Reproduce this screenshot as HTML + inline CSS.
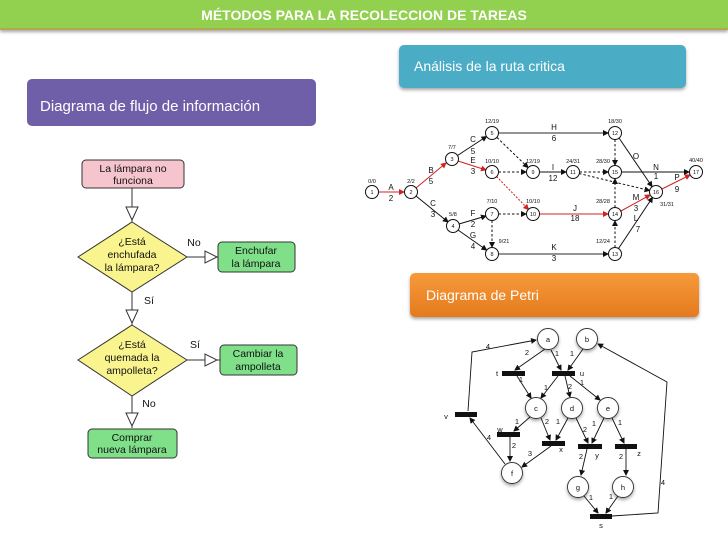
<!DOCTYPE html>
<html><head><meta charset="utf-8"><style>
html,body{margin:0;padding:0;background:#fff;}
svg{display:block;}
</style></head><body>
<svg width="728" height="546" viewBox="0 0 728 546" xmlns="http://www.w3.org/2000/svg" font-family="Liberation Sans, DejaVu Sans, sans-serif">
<defs>
<marker id="ab" markerWidth="6" markerHeight="6" refX="5" refY="3" orient="auto" markerUnits="userSpaceOnUse"><path d="M0,0 L6,3 L0,6 z" fill="#111"/></marker>
<marker id="ar" markerWidth="6" markerHeight="6" refX="5" refY="3" orient="auto" markerUnits="userSpaceOnUse"><path d="M0,0 L6,3 L0,6 z" fill="#d32020"/></marker>
<filter id="sh" x="-5%" y="-20%" width="110%" height="150%"><feDropShadow dx="0" dy="2" stdDeviation="1.5" flood-color="#000" flood-opacity="0.35"/></filter>
<linearGradient id="og" x1="0" y1="0" x2="0" y2="1"><stop offset="0" stop-color="#f79a3a"/><stop offset="1" stop-color="#e47a1e"/></linearGradient>
</defs>
<!-- header -->
<rect x="0" y="0" width="728" height="30" fill="#92d050" filter="url(#sh)"/>
<rect x="0" y="28" width="728" height="2" fill="#b5a848"/>
<text x="364" y="20" text-anchor="middle" font-size="14" font-weight="bold" fill="#fff">MÉTODOS PARA LA RECOLECCION DE TAREAS</text>
<!-- boxes -->
<rect x="399" y="45" width="287" height="43" rx="5" fill="#4bacc6" filter="url(#sh)"/>
<text x="414" y="71" font-size="14" fill="#fff">Análisis de la ruta critica</text>
<rect x="27" y="79" width="289" height="47" rx="5" fill="#6f5fa8"/>
<text x="40" y="111" font-size="15" fill="#fff">Diagrama de flujo de información</text>
<rect x="410" y="273" width="289" height="44" rx="5" fill="url(#og)" filter="url(#sh)"/>
<text x="426" y="300" font-size="14" fill="#fff">Diagrama de Petri</text>

<!-- flowchart -->
<g font-size="10.5" fill="#111" stroke="#111">
<rect x="82" y="160" width="102" height="28" rx="4" fill="#f6c4cd" stroke="#333"/>
<line x1="132" y1="188" x2="132" y2="222" stroke="#333"/>
<polygon points="126,207 138,207 132,220" fill="#fff" stroke="#333"/>
<polygon points="132,222 187,257 132,292 78,257" fill="#f9f48e" stroke="#333"/>
<line x1="187" y1="257" x2="218" y2="257" stroke="#333"/>
<polygon points="205,251 205,263 217,257" fill="#fff" stroke="#333"/>
<rect x="218" y="242" width="77" height="30" rx="4" fill="#80e08a" stroke="#333"/>
<line x1="132" y1="292" x2="132" y2="325" stroke="#333"/>
<polygon points="126,310 138,310 132,323" fill="#fff" stroke="#333"/>
<polygon points="132,325 187,360 132,396 78,360" fill="#f9f48e" stroke="#333"/>
<line x1="187" y1="360" x2="220" y2="360" stroke="#333"/>
<polygon points="205,354 205,366 217,360" fill="#fff" stroke="#333"/>
<rect x="220" y="345" width="77" height="30" rx="4" fill="#80e08a" stroke="#333"/>
<line x1="132" y1="396" x2="132" y2="428" stroke="#333"/>
<polygon points="126,413 138,413 132,426" fill="#fff" stroke="#333"/>
<rect x="88" y="429" width="89" height="29" rx="4" fill="#80e08a" stroke="#333"/>
</g>
<g font-size="10.5" fill="#111" text-anchor="middle">
<text x="133" y="172">La lámpara no</text><text x="133" y="184">funciona</text>
<text x="132" y="245">¿Está</text><text x="132" y="258">enchufada</text><text x="132" y="271">la lámpara?</text>
<text x="194" y="246">No</text>
<text x="256" y="254">Enchufar</text><text x="256" y="267">la lámpara</text>
<text x="149" y="304">Sí</text>
<text x="132" y="348">¿Está</text><text x="132" y="361">quemada la</text><text x="132" y="374">ampolleta?</text>
<text x="195" y="348">Sí</text>
<text x="258" y="357">Cambiar la</text><text x="258" y="370">ampolleta</text>
<text x="149" y="407">No</text>
<text x="132" y="441">Comprar</text><text x="132" y="453">nueva lámpara</text>
</g>

<!-- CPM -->
<g stroke-width="1" fill="none">
<line x1="378.5" y1="192" x2="404" y2="192" stroke="#d32020" marker-end="url(#ar)"/>
<line x1="416" y1="188" x2="446" y2="163" stroke="#d32020" marker-end="url(#ar)"/>
<line x1="416" y1="196" x2="448" y2="222" stroke="#111" marker-end="url(#ab)"/>
<line x1="457.5" y1="155.5" x2="486.5" y2="136.5" stroke="#111" marker-end="url(#ab)"/>
<line x1="458" y1="161" x2="486" y2="170" stroke="#d32020" marker-end="url(#ar)"/>
<line x1="459" y1="224" x2="486" y2="216" stroke="#111" marker-end="url(#ab)"/>
<line x1="458" y1="230" x2="486.5" y2="250" stroke="#111" marker-end="url(#ab)"/>
<line x1="498.5" y1="133" x2="608" y2="133" stroke="#555" stroke-width="1.3" marker-end="url(#ab)"/>
<line x1="497" y1="137.5" x2="528" y2="167.5" stroke="#111" stroke-dasharray="2.5,2" marker-end="url(#ab)"/>
<line x1="498.5" y1="172" x2="526" y2="172" stroke="#111" stroke-dasharray="2.5,2" marker-end="url(#ab)"/>
<line x1="496.5" y1="176.5" x2="528.5" y2="209.5" stroke="#d32020" stroke-dasharray="2,1.5" marker-end="url(#ar)"/>
<line x1="498.5" y1="214" x2="526" y2="214" stroke="#111" stroke-dasharray="2.5,2" marker-end="url(#ab)"/>
<line x1="492" y1="220.5" x2="492" y2="247" stroke="#111" stroke-dasharray="2.5,2" marker-end="url(#ab)"/>
<line x1="539.5" y1="172" x2="566" y2="172" stroke="#111" marker-end="url(#ab)"/>
<line x1="539.5" y1="214" x2="608" y2="214" stroke="#d32020" marker-end="url(#ar)"/>
<line x1="579.5" y1="172" x2="608" y2="172" stroke="#111" stroke-dasharray="2.5,2" marker-end="url(#ab)"/>
<line x1="579" y1="173.5" x2="649.5" y2="190.5" stroke="#111" stroke-dasharray="2.5,2" marker-end="url(#ab)"/>
<line x1="498.5" y1="254" x2="608" y2="254" stroke="#555" stroke-width="1.3" marker-end="url(#ab)"/>
<line x1="615" y1="139.5" x2="615" y2="165" stroke="#111" stroke-dasharray="2.5,2" marker-end="url(#ab)"/>
<line x1="619" y1="138" x2="652" y2="186.5" stroke="#111" marker-end="url(#ab)"/>
<line x1="621.5" y1="172" x2="689" y2="172" stroke="#111" marker-end="url(#ab)"/>
<line x1="615" y1="207.5" x2="615" y2="179" stroke="#111" stroke-dasharray="2.5,2" marker-end="url(#ab)"/>
<line x1="615" y1="247.5" x2="615" y2="221" stroke="#111" stroke-dasharray="2.5,2" marker-end="url(#ab)"/>
<line x1="621" y1="211" x2="650" y2="195" stroke="#d32020" marker-end="url(#ar)"/>
<line x1="618.5" y1="248.5" x2="652.5" y2="197.5" stroke="#111" marker-end="url(#ab)"/>
<line x1="662" y1="189" x2="690" y2="175" stroke="#d32020" marker-end="url(#ar)"/>
</g>
<g fill="#fff" stroke="#111" stroke-width="1">
<circle cx="372" cy="192" r="6.5"/><circle cx="411" cy="192" r="6.5"/><circle cx="452" cy="159" r="6.5"/><circle cx="453" cy="226" r="6.5"/>
<circle cx="492" cy="133" r="6.5"/><circle cx="492" cy="172" r="6.5"/><circle cx="492" cy="214" r="6.5"/><circle cx="492" cy="254" r="6.5"/>
<circle cx="533" cy="172" r="6.5"/><circle cx="533" cy="214" r="6.5"/><circle cx="573" cy="172" r="6.5"/>
<circle cx="615" cy="133" r="6.5"/><circle cx="615" cy="172" r="6.5"/><circle cx="615" cy="214" r="6.5"/><circle cx="615" cy="254" r="6.5"/>
<circle cx="656" cy="192" r="6.5"/><circle cx="696" cy="172" r="6.5"/>
</g>
<g font-size="5.5" fill="#111" text-anchor="middle">
<text x="372" y="194">1</text><text x="411" y="194">2</text><text x="452" y="161">3</text><text x="453" y="228">4</text>
<text x="492" y="135">5</text><text x="492" y="174">6</text><text x="492" y="216">7</text><text x="492" y="256">8</text>
<text x="533" y="174">9</text><text x="533" y="216">10</text><text x="573" y="174">11</text>
<text x="615" y="135">12</text><text x="615" y="174">15</text><text x="615" y="216">14</text><text x="615" y="256">13</text>
<text x="656" y="194">16</text><text x="696" y="174">17</text>
<text x="372" y="183">0/0</text><text x="411" y="183">2/2</text><text x="452" y="149">7/7</text><text x="492" y="123">12/19</text>
<text x="492" y="163">10/10</text><text x="492" y="203">7/10</text><text x="453" y="216">5/8</text><text x="504" y="243">9/21</text>
<text x="533" y="163">12/19</text><text x="533" y="203">10/10</text><text x="573" y="163">24/31</text><text x="615" y="123">18/30</text>
<text x="603" y="163">28/30</text><text x="603" y="203">28/28</text><text x="603" y="243">12/24</text><text x="696" y="162">40/40</text><text x="667" y="206">31/31</text>
</g>
<g font-size="8" fill="#111" text-anchor="middle">
<text x="391" y="190">A</text><text x="391" y="201">2</text>
<text x="431" y="173">B</text><text x="431" y="184">5</text>
<text x="433" y="206">C</text><text x="433" y="217">3</text>
<text x="473" y="142">C</text><text x="473" y="154">5</text>
<text x="473" y="163">E</text><text x="473" y="174">3</text>
<text x="473" y="216">F</text><text x="473" y="227">2</text>
<text x="473" y="238">G</text><text x="473" y="249">4</text>
<text x="554" y="130">H</text><text x="554" y="141">6</text>
<text x="553" y="170">I</text><text x="553" y="181">12</text>
<text x="575" y="211">J</text><text x="575" y="221">18</text>
<text x="554" y="250">K</text><text x="554" y="261">3</text>
<text x="636" y="159">O</text>
<text x="656" y="170">N</text><text x="656" y="179">1</text>
<text x="677" y="180">P</text><text x="677" y="192">9</text>
<text x="636" y="200">M</text><text x="636" y="211">3</text>
<text x="636" y="221">L</text><text x="638" y="232">7</text>
</g>

<!-- Petri -->
<g stroke="#111" stroke-width="0.9" fill="none">
<line x1="545" y1="349" x2="515" y2="370" marker-end="url(#ab)"/>
<line x1="551" y1="350" x2="561" y2="370" marker-end="url(#ab)"/>
<line x1="583" y1="349" x2="568" y2="370" marker-end="url(#ab)"/>
<line x1="517" y1="376" x2="531" y2="398" marker-end="url(#ab)"/>
<line x1="558" y1="376" x2="541" y2="398" marker-end="url(#ab)"/>
<line x1="565" y1="376" x2="570" y2="397" marker-end="url(#ab)"/>
<line x1="570" y1="376" x2="600" y2="400" marker-end="url(#ab)"/>
<line x1="530" y1="417" x2="514" y2="431" marker-end="url(#ab)"/>
<line x1="541" y1="418" x2="550" y2="440" marker-end="url(#ab)"/>
<line x1="568" y1="418" x2="556" y2="440" marker-end="url(#ab)"/>
<line x1="576" y1="418" x2="588" y2="443" marker-end="url(#ab)"/>
<line x1="604" y1="418" x2="592" y2="443" marker-end="url(#ab)"/>
<line x1="612" y1="418" x2="624" y2="443" marker-end="url(#ab)"/>
<line x1="510" y1="437" x2="510" y2="461" marker-end="url(#ab)"/>
<line x1="551" y1="446" x2="522" y2="467" marker-end="url(#ab)"/>
<line x1="505" y1="464" x2="470" y2="418" marker-end="url(#ab)"/>
<polyline points="468,411 472,352 536,340" marker-end="url(#ab)"/>
<line x1="587" y1="449" x2="581" y2="475" marker-end="url(#ab)"/>
<line x1="626" y1="449" x2="626" y2="475" marker-end="url(#ab)"/>
<line x1="584" y1="496" x2="598" y2="513" marker-end="url(#ab)"/>
<line x1="618" y1="496" x2="606" y2="513" marker-end="url(#ab)"/>
<polyline points="612,516 658,513 667,382 598,344" marker-end="url(#ab)"/>
</g>
<g fill="#111">
<rect x="502" y="371" width="23" height="5"/><rect x="552" y="371" width="23" height="5"/>
<rect x="455" y="412" width="22" height="5"/><rect x="497" y="432" width="23" height="5"/>
<rect x="542" y="441" width="23" height="5"/><rect x="578" y="444" width="24" height="5"/>
<rect x="615" y="444" width="22" height="5"/><rect x="590" y="514" width="22" height="5"/>
</g>
<g fill="#fff" stroke="#333" stroke-width="0.9" filter="url(#sh)">
<circle cx="548" cy="339" r="10.5"/><circle cx="587" cy="339" r="10.5"/>
<circle cx="536" cy="408" r="10.5"/><circle cx="572" cy="408" r="10.5"/><circle cx="608" cy="408" r="10.5"/>
<circle cx="512" cy="473" r="10.5"/><circle cx="578" cy="487" r="10.5"/><circle cx="623" cy="487" r="10.5"/>
</g>
<g font-size="7.5" fill="#111" text-anchor="middle">
<text x="548" y="342">a</text><text x="587" y="342">b</text><text x="536" y="411">c</text><text x="572" y="411">d</text><text x="608" y="411">e</text>
<text x="512" y="476">f</text><text x="578" y="490">g</text><text x="623" y="490">h</text>
<text x="497" y="376">t</text><text x="582" y="376">u</text><text x="446" y="419">v</text><text x="500" y="432">w</text>
<text x="561" y="452">x</text><text x="597" y="458">y</text><text x="639" y="456">z</text><text x="601" y="528">s</text>
<text x="527" y="355">2</text><text x="557" y="356">1</text><text x="572" y="356">1</text>
<text x="521" y="382">1</text><text x="546" y="390">1</text><text x="570" y="389">2</text><text x="582" y="385">1</text>
<text x="517" y="424">1</text><text x="547" y="424">2</text><text x="558" y="424">1</text><text x="585" y="432">2</text><text x="594" y="426">1</text><text x="620" y="425">1</text>
<text x="514" y="448">2</text><text x="530" y="456">3</text><text x="489" y="440">4</text><text x="488" y="349">4</text>
<text x="581" y="459">2</text><text x="621" y="459">2</text><text x="591" y="500">1</text><text x="611" y="499">1</text><text x="663" y="485">4</text>
</g>
</svg>
</body></html>
